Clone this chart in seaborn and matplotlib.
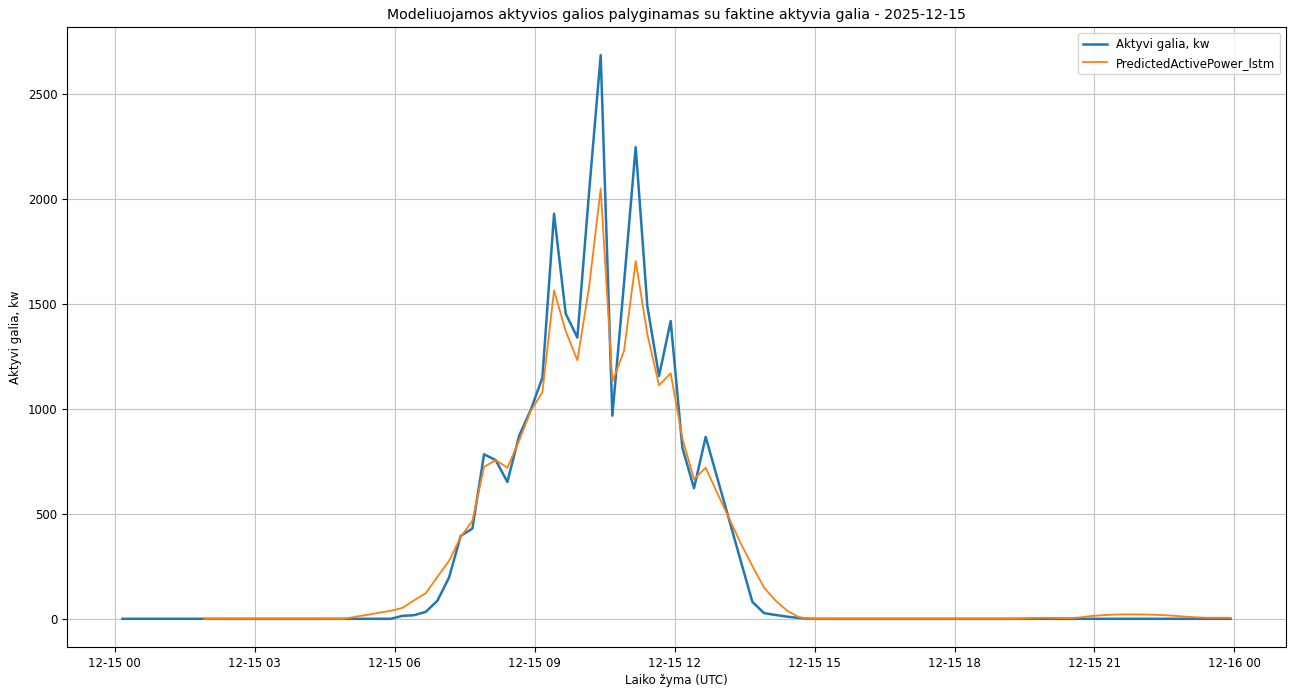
import numpy as np
import pandas as pd
import matplotlib
matplotlib.use("Agg")
import matplotlib.pyplot as plt
import matplotlib.dates as mdates
import seaborn as sns

plt.rcParams["font.size"] = 8.5

# 15-minute readings for 2025-12-15 (UTC)
timestamps = pd.date_range("2025-12-15 00:10", periods=96, freq="15min")

actual_kw = [
    0, 0, 0, 0, 0, 0, 0, 0, 0, 0, 0, 0,
    0, 0, 0, 0, 0, 0, 0, 0, 0, 0, 0, 0,
    14, 17, 33, 86, 197, 395, 430, 784, 756, 652, 871, 995,
    1149, 1930, 1454, 1340, 2030, 2686, 968, 1600, 2248, 1490, 1157, 1419,
    816, 622, 867, 670, 474, 277, 81, 27, 18, 10, 4, 0,
    0, 0, 0, 0, 0, 0, 0, 0, 0, 0, 0, 0,
    0, 0, 0, 0, 0, 0, 0, 0, 0, 0, 0, 0,
    0, 0, 0, 0, 0, 0, 0, 0, 0, 0, 0, 0,
]

predicted_lstm_kw = [
    np.nan, np.nan, np.nan, np.nan, np.nan, np.nan, np.nan, 0, 0, 0, 0, 0,
    0, 0, 0, 0, 0, 0, 0, 0, 10, 19, 29, 38,
    52, 88, 122, 200, 276, 390, 467, 724, 756, 720, 848, 990,
    1080, 1565, 1371, 1232, 1578, 2049, 1130, 1276, 1705, 1356, 1113, 1170,
    860, 665, 720, 598, 480, 360, 252, 149, 86, 38, 8, 0,
    0, 0, 0, 0, 0, 0, 0, 0, 0, 0, 0, 0,
    0, 0, 0, 0, 0, 1, 4, 5, 4, 3, 6, 13,
    17, 20, 21, 21, 20, 18, 15, 11, 7, 5, 5, 5,
]

df = pd.DataFrame({
    "time": timestamps,
    "actual": actual_kw,
    "predicted": predicted_lstm_kw,
})

fig, ax = plt.subplots(figsize=(12.97, 6.89), dpi=100)
fig.subplots_adjust(left=0.0517, right=0.9915, top=0.9608, bottom=0.061)

sns.lineplot(data=df, x="time", y="actual", ax=ax, color="#1f77b4",
             linewidth=1.8, label="Aktyvi galia, kw")
sns.lineplot(data=df.dropna(), x="time", y="predicted", ax=ax, color="#ff7f0e",
             linewidth=1.3, label="PredictedActivePower_lstm")

ax.xaxis.set_major_locator(mdates.HourLocator(byhour=range(0, 24, 3)))
ax.xaxis.set_major_formatter(mdates.DateFormatter("%m-%d %H"))
ax.margins(x=0.05, y=0.05)

ax.grid(True, color="#c4c4c4", linewidth=0.8)
ax.set_title("Modeliuojamos aktyvios galios palyginamas su faktine aktyvia galia - 2025-12-15")
ax.set_xlabel("Laiko žyma (UTC)", labelpad=3)
ax.set_ylabel("Aktyvi galia, kw")
ax.legend(loc="upper right")

fig.savefig("out.png", dpi=100)
